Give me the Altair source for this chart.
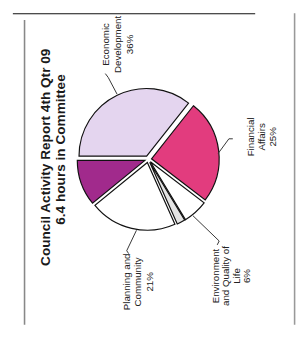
import math
import altair as alt
import pandas as pd

# ---- data ----
categories = ["Economic Development", "Financial Affairs", "Environment and Quality of Life",
              "Other", "Planning and Community", "Unlabelled"]
values = [36, 25, 6, 2, 21, 11]
colors = ["#e4d5ef", "#e23c7e", "#ffffff", "#e4e4e4", "#ffffff", "#a12a8c"]

title_lines = ["Council Activity Report 4th Qtr 09", "6.4 hours in Committee"]
econ_label = ["Economic", "Development", "36%"]
fin_label = ["Financial", "Affairs", "25%"]
env_label = ["Environment", "and Quality of", "Life", "6%"]
plan_label = ["Planning and", "Community", "21%"]

pie_df = pd.DataFrame({"category": categories, "value": values,
                       "order": list(range(len(categories)))})

W, H = 298, 320
CX, CY, R, D = 144, 150, 69.5, 3.5   # centre, radius, explode distance
FONT = "Liberation Sans"
START = 1.5 * math.pi                 # first slice starts pointing left

pie = (
    alt.Chart(pie_df)
    .transform_joinaggregate(total="sum(value)")
    .transform_window(cum="sum(value)", sort=[alt.SortField("order")], frame=[None, 0])
    .transform_calculate(t1=f"{START} + 2*PI*datum.cum/datum.total")
    .transform_calculate(t0=f"{START} + 2*PI*(datum.cum - datum.value)/datum.total")
    .transform_calculate(mid="(datum.t0 + datum.t1)/2")
    .transform_calculate(cx=f"{CX} + {D}*sin(datum.mid)")
    .transform_calculate(cy=f"{CY} - {D}*cos(datum.mid)")
    .mark_arc(outerRadius=R, stroke="#111", strokeWidth=1.2)
    .encode(
        theta=alt.Theta("t0:Q", scale=None),
        theta2="t1:Q",
        x=alt.X("cx:Q", scale=None, axis=None),
        y=alt.Y("cy:Q", scale=None, axis=None),
        color=alt.Color("category:N", scale=alt.Scale(domain=categories, range=colors), legend=None),
    )
)


def one():
    return alt.Chart(alt.Data(values=[{}]))


def text_layer(lines, x, y, size, weight="normal", lh=11, color="#222"):
    return one().mark_text(
        text=lines, angle=270, align="center", baseline="middle", fontSize=size,
        fontWeight=weight, font=FONT, lineHeight=lh, color=color
    ).encode(x=alt.value(x), y=alt.value(y))


def seg(x1, y1, x2, y2, color="#333", w=1.0):
    return one().mark_rule(color=color, strokeWidth=w).encode(
        x=alt.value(x1), y=alt.value(y1), x2=alt.value(x2), y2=alt.value(y2))


layers = [
    # frame
    seg(5, 0.5, 254, 0.5, color="#111", w=1.2),
    seg(17, 7, 17, H, color="#888", w=1.6),
    seg(294.5, 0, 294.5, H, color="#999", w=1.6),
    pie,
    # title
    text_layer(title_lines[0], 39, 148, 14, weight="bold", color="#1a1a1a"),
    text_layer(title_lines[1], 55, 140, 14, weight="bold", color="#1a1a1a"),
    # labels
    text_layer(econ_label, 101, 32, 10, lh=12),
    text_layer(fin_label, 250, 127, 10, lh=11),
    text_layer(env_label, 214, 270, 10, lh=10.5),
    text_layer(plan_label, 122, 276, 10, lh=12),
    # leader lines
    seg(112, 83, 103, 66), seg(103, 66, 100, 62),
    seg(216, 144, 227, 129), seg(227, 129, 231, 129),
    seg(190, 208, 217, 234), seg(217, 234, 215, 238),
    seg(132, 223, 122, 244), seg(122, 244, 124, 247),
]

chart = alt.layer(*layers).properties(
    width=W, height=H,
    autosize=alt.AutoSizeParams(type="fit", contains="padding"),
    padding=0, background="white",
).configure_view(stroke=None)

chart.save("out.html", embed_options={"renderer": "svg", "actions": False})
